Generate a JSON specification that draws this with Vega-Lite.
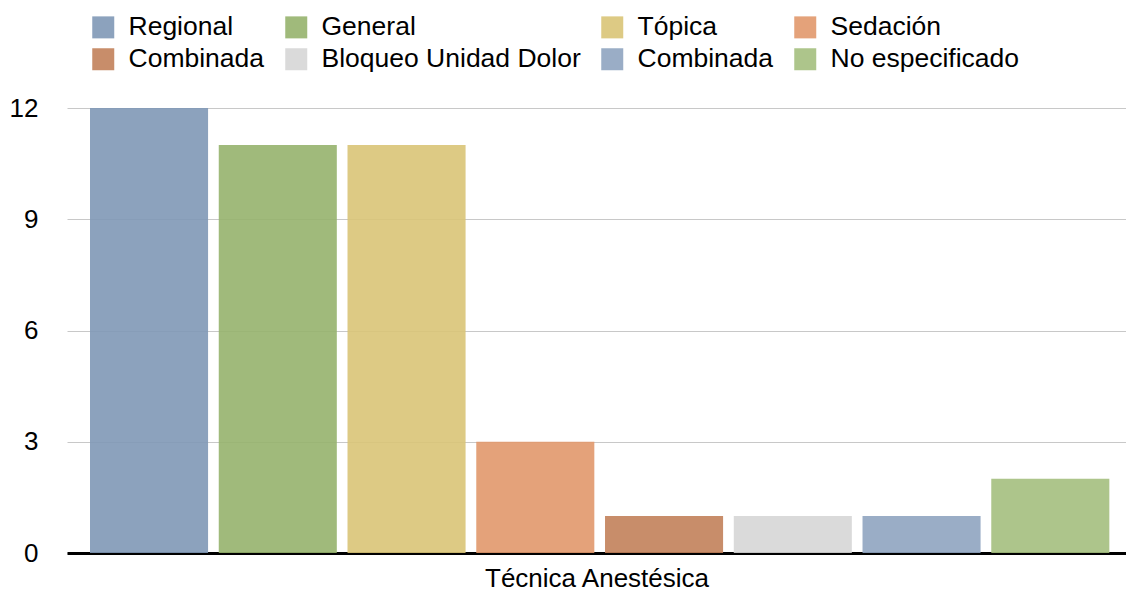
{
  "$schema": "https://vega.github.io/schema/vega-lite/v6.json",
  "autosize": {"type": "none"},
  "width": 1059,
  "height": 445,
  "padding": {"left": 67, "top": 108, "right": 0, "bottom": 39},
  "background": "white",
  "config": {
    "view": {"stroke": null},
    "font": "Liberation Sans"
  },
  "data": {
    "values": [
      {"k": "r", "tecnica": "Regional", "valor": 12},
      {"k": "g", "tecnica": "General", "valor": 11},
      {"k": "t", "tecnica": "Tópica", "valor": 11},
      {"k": "s", "tecnica": "Sedación", "valor": 3},
      {"k": "c1", "tecnica": "Combinada", "valor": 1},
      {"k": "b", "tecnica": "Bloqueo Unidad Dolor", "valor": 1},
      {"k": "c2", "tecnica": "Combinada", "valor": 1},
      {"k": "n", "tecnica": "No especificado", "valor": 2}
    ]
  },
  "mark": {"type": "bar", "opacity": 0.9},
  "encoding": {
    "x": {
      "field": "k",
      "type": "nominal",
      "sort": null,
      "scale": {"paddingInner": 0.083, "paddingOuter": 0.154, "align": 0.58},
      "axis": {
        "title": "Técnica Anestésica",
        "labels": false,
        "ticks": false,
        "domain": true,
        "domainColor": "black",
        "domainWidth": 3,
        "titleFontSize": 26,
        "titleFontWeight": "normal",
        "titleColor": "black",
        "titlePadding": 12
      }
    },
    "y": {
      "field": "valor",
      "type": "quantitative",
      "scale": {"domain": [0, 12], "nice": false},
      "axis": {
        "title": null,
        "values": [0, 3, 6, 9, 12],
        "domain": false,
        "ticks": false,
        "grid": true,
        "gridColor": "#c8c8c8",
        "gridWidth": 1,
        "labelFontSize": 26,
        "labelColor": "black",
        "labelPadding": 29
      }
    },
    "color": {
      "field": "k",
      "type": "nominal",
      "scale": {
        "domain": ["r", "g", "t", "s", "c1", "b", "c2", "n"],
        "range": ["#8098b6", "#96b26d", "#d9c477", "#e1986b", "#c2815a", "#d6d6d6", "#8fa4c0", "#a4bf7e"]
      },
      "legend": {
        "title": null,
        "orient": "none",
        "direction": "horizontal",
        "legendX": 23,
        "legendY": -94,
        "columns": 4,
        "symbolType": "square",
        "symbolSize": 484,
        "symbolStrokeWidth": 0,
        "symbolOpacity": 0.9,
        "labelFontSize": 26.5,
        "labelColor": "black",
        "labelOffset": 12,
        "columnPadding": 18,
        "rowPadding": 5,
        "padding": 0,
        "labelLimit": 400,
        "labelExpr": "['Regional','General','Tópica','Sedación','Combinada','Bloqueo Unidad Dolor','Combinada','No especificado'][indexof(['r','g','t','s','c1','b','c2','n'], datum.value)]"
      }
    }
  }
}
